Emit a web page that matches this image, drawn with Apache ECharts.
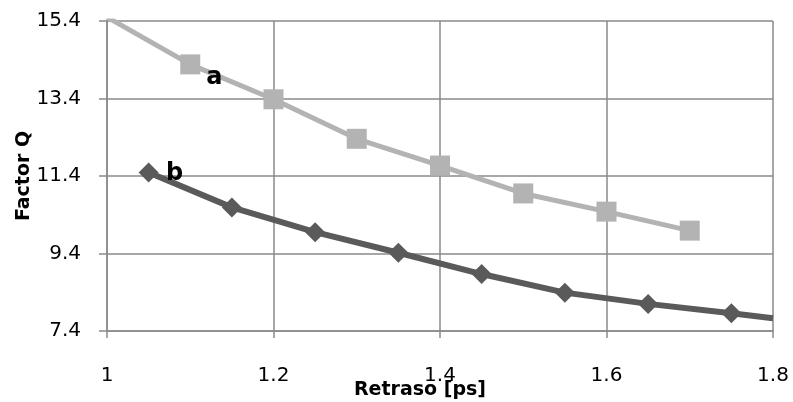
<!DOCTYPE html>
<html>
<head>
<meta charset="utf-8">
<script src="https://cdn.jsdelivr.net/npm/echarts@6/dist/echarts.min.js"></script>
<style>
  html, body { margin: 0; padding: 0; background: #fff; }
  #chart { width: 793px; height: 402px; }
</style>
</head>
<body>
<div id="chart"></div>
<script>
// Delay (ps) and Q factor for the two curves.
// Curve a starts with an unmarked extension point at 1.0; curve b ends with one at 1.8.
const aDelay = [1.0, 1.1, 1.2, 1.3, 1.4, 1.5, 1.6, 1.7];
const aQ     = [15.5, 14.28, 13.38, 12.36, 11.67, 10.95, 10.48, 9.99];
const bDelay = [1.05, 1.15, 1.25, 1.35, 1.45, 1.55, 1.65, 1.75, 1.8];
const bQ     = [11.49, 10.59, 9.95, 9.42, 8.87, 8.39, 8.10, 7.86, 7.73];

const xTicks = [1, 1.2, 1.4, 1.6, 1.8];
const yTicks = [7.4, 9.4, 11.4, 13.4, 15.4];

const FONT = 'DejaVu Sans';
const GRID_COLOR = '#8a8a8a';

function curveLabel(text, offset) {
  return {
    show: true,
    formatter: text,
    position: 'inside',
    offset: offset,
    fontFamily: FONT,
    fontWeight: 'bold',
    fontSize: 24,
    color: '#000'
  };
}

const aData = aDelay.map((x, i) => {
  const item = { value: [x, aQ[i]] };
  if (i === 0) item.symbol = 'none';
  if (i === 1) item.label = curveLabel('a', [24, 13]);
  return item;
});

const bData = bDelay.map((x, i) => {
  const item = { value: [x, bQ[i]] };
  if (i === bDelay.length - 1) item.symbol = 'none';
  if (i === 0) item.label = curveLabel('b', [26, 1]);
  return item;
});

const chart = echarts.init(document.getElementById('chart'), null, { renderer: 'canvas' });

chart.setOption({
  animation: false,
  backgroundColor: '#fff',
  grid: { left: 107, right: 20, top: 21, bottom: 71, containLabel: false, outerBoundsMode: 'none' },
  xAxis: {
    type: 'value',
    min: 1,
    max: 1.8,
    name: 'Retraso [ps]',
    nameLocation: 'middle',
    nameGap: 50,
    nameMoveOverlap: false,
    nameTextStyle: {
      fontFamily: FONT, fontWeight: 'bold', fontSize: 19, color: '#000',
      padding: [0, 40, 0, 0]
    },
    axisLine: { show: true, lineStyle: { color: GRID_COLOR, width: 1.5 } },
    axisTick: { show: true, customValues: xTicks, length: 7, lineStyle: { color: GRID_COLOR, width: 1.5 } },
    axisLabel: {
      customValues: xTicks,
      margin: 35,
      fontFamily: FONT, fontSize: 20, color: '#000',
      formatter: v => String(+Number(v).toFixed(1))
    },
    splitLine: { show: true, lineStyle: { color: GRID_COLOR, width: 1.5 } }
  },
  yAxis: {
    type: 'value',
    min: 7.4,
    max: 15.4,
    name: 'Factor Q',
    nameLocation: 'middle',
    nameRotate: 90,
    nameGap: 73,
    nameMoveOverlap: false,
    nameTextStyle: { fontFamily: FONT, fontWeight: 'bold', fontSize: 19, color: '#000' },
    axisLine: { show: true, lineStyle: { color: GRID_COLOR, width: 1.5 } },
    axisTick: { show: true, customValues: yTicks, length: 8, lineStyle: { color: GRID_COLOR, width: 1.5 } },
    axisLabel: {
      customValues: yTicks,
      margin: 26,
      fontFamily: FONT, fontSize: 20, color: '#000',
      formatter: v => Number(v).toFixed(1)
    },
    splitLine: { show: true, lineStyle: { color: GRID_COLOR, width: 1.5 } }
  },
  series: [
    {
      name: 'a',
      type: 'line',
      data: aData,
      symbol: 'rect',
      symbolSize: 20,
      showAllSymbol: true,
      clip: true,
      lineStyle: { color: '#b3b3b3', width: 5 },
      itemStyle: { color: '#b3b3b3' },
      z: 3
    },
    {
      name: 'b',
      type: 'line',
      data: bData,
      symbol: 'diamond',
      symbolSize: 20,
      showAllSymbol: true,
      clip: true,
      lineStyle: { color: '#5a5a5a', width: 6 },
      itemStyle: { color: '#5a5a5a' },
      z: 4
    }
  ]
});
</script>
</body>
</html>
